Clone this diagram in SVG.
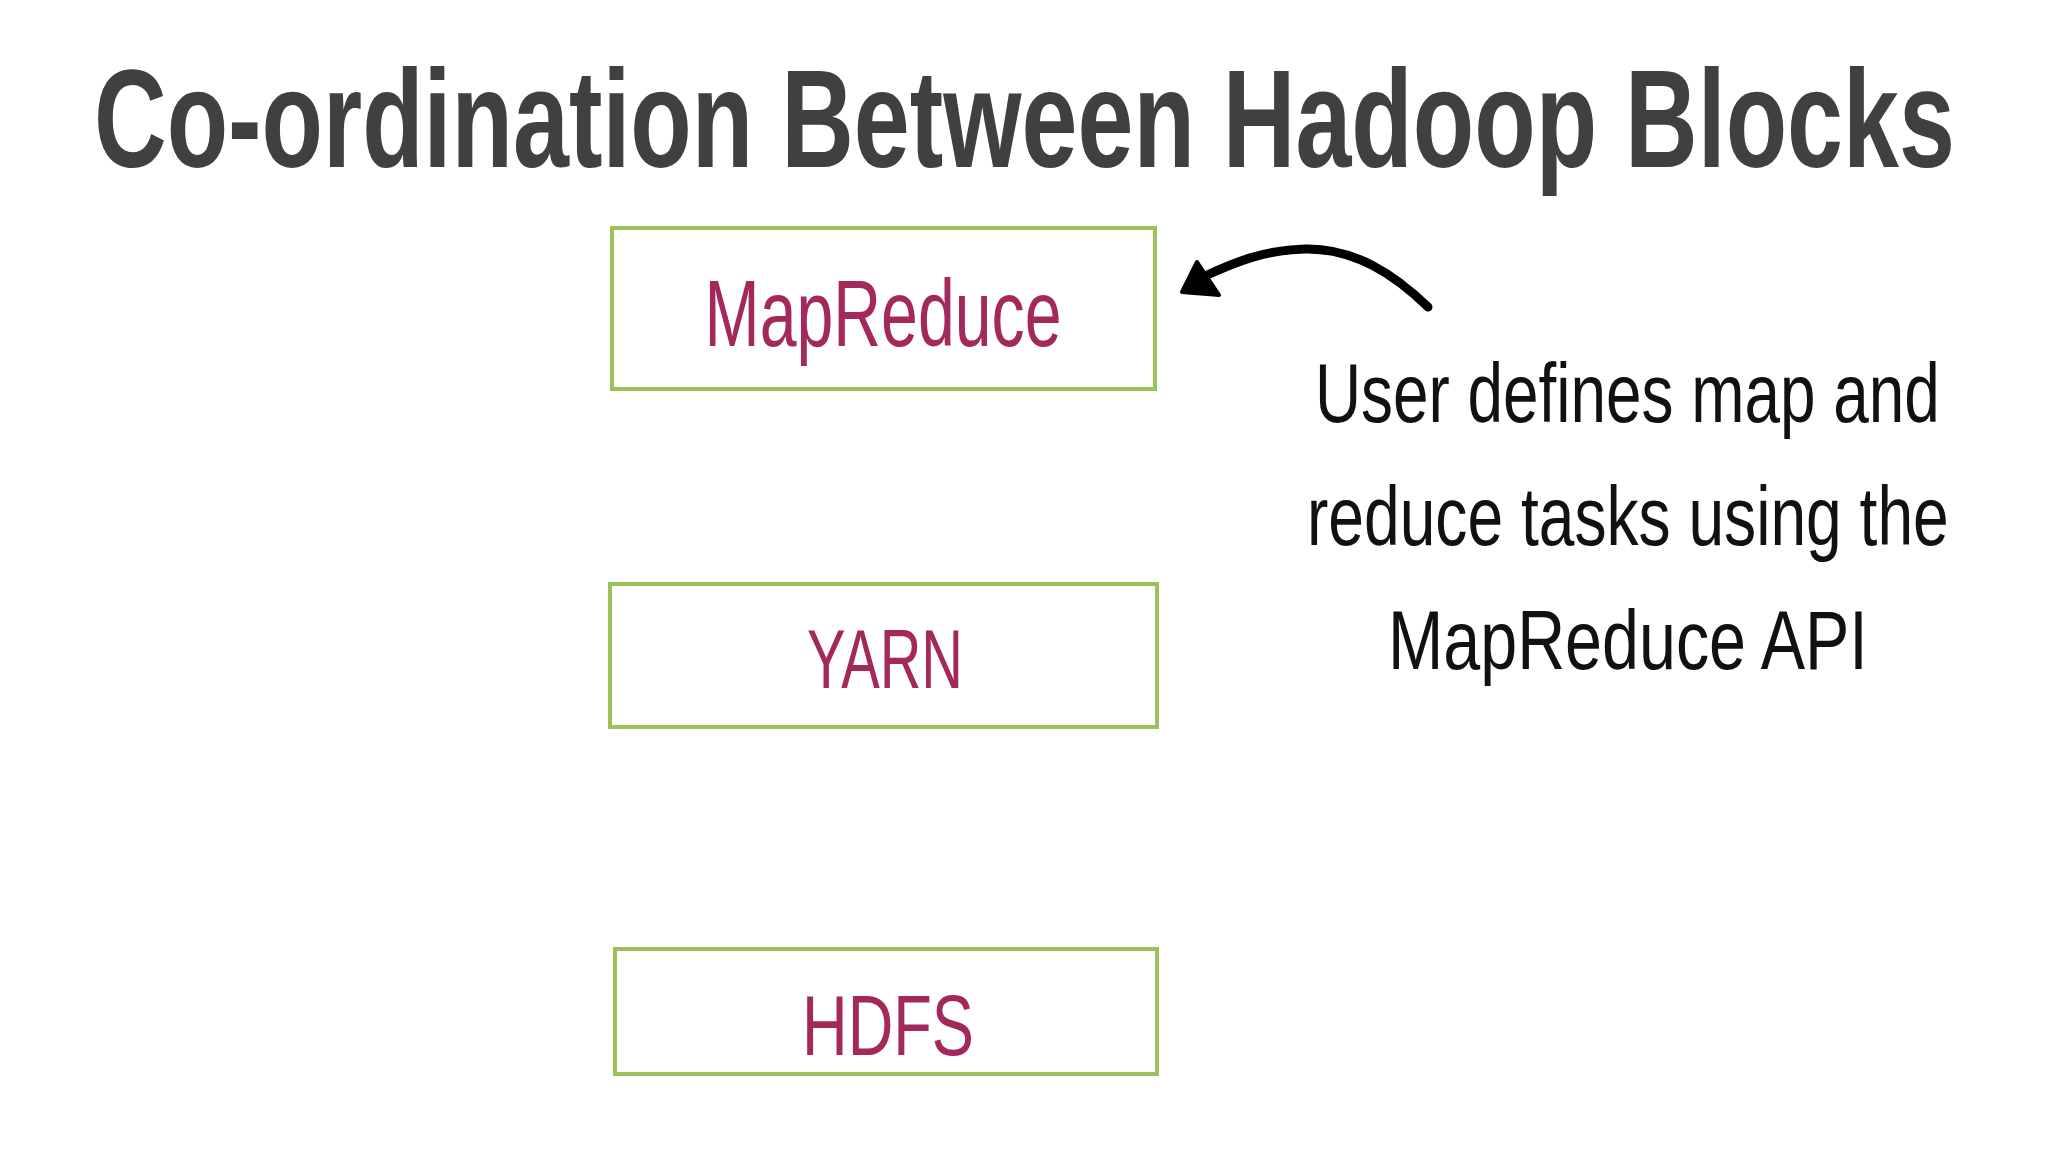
<svg xmlns="http://www.w3.org/2000/svg" width="2048" height="1152" viewBox="0 0 2048 1152">
  <style>
    .box { fill: #ffffff; stroke: #9bc25a; stroke-width: 4; }
    .lbl { font-family: "Liberation Sans", Arial, sans-serif; fill: #a3295a; text-anchor: middle; }
    .note { font-family: "Liberation Sans", Arial, sans-serif; fill: #111111; font-size: 84px; }
    .title { font-family: "Liberation Sans", Arial, sans-serif; font-weight: bold; fill: #404040; font-size: 140px; }
  </style>
  <rect width="2048" height="1152" fill="#ffffff"/>
  <text class="title" transform="translate(94,167) scale(0.7185,1)" x="0" y="0" textLength="2590" lengthAdjust="spacingAndGlyphs">Co-ordination Between Hadoop Blocks</text>

  <g id="node-mapreduce">
    <rect class="box" x="612" y="228" width="543" height="161"/>
    <text class="lbl" transform="translate(883,346) scale(0.704,1)" x="0" y="0" font-size="94" textLength="507" lengthAdjust="spacingAndGlyphs">MapReduce</text>
  </g>
  <g id="node-yarn">
    <rect class="box" x="610" y="584" width="547" height="143"/>
    <text class="lbl" transform="translate(885,688) scale(0.67,1)" x="0" y="0" font-size="84" textLength="233" lengthAdjust="spacingAndGlyphs">YARN</text>
  </g>
  <g id="node-hdfs">
    <rect class="box" x="615" y="949" width="542" height="125"/>
    <text class="lbl" transform="translate(888,1055) scale(0.735,1)" x="0" y="0" font-size="86" textLength="234" lengthAdjust="spacingAndGlyphs">HDFS</text>
  </g>

  <g id="note">
    <text class="note" transform="translate(1315,422) scale(0.76,1)" x="0" y="0" textLength="822" lengthAdjust="spacingAndGlyphs">User defines map and</text>
    <text class="note" transform="translate(1307,545) scale(0.764,1)" x="0" y="0" textLength="840" lengthAdjust="spacingAndGlyphs">reduce tasks using the</text>
    <text class="note" transform="translate(1388,669) scale(0.784,1)" x="0" y="0" textLength="612" lengthAdjust="spacingAndGlyphs">MapReduce API</text>
  </g>

  <g id="connectors">
    <path d="M1428,307 C1395,275 1355,248 1305,249 C1265,250 1235,262 1205,276" fill="none" stroke="#000000" stroke-width="9" stroke-linecap="round"/>
    <polygon points="1182,292 1197,262 1219,295" fill="#000000" stroke="#000000" stroke-width="4" stroke-linejoin="round"/>
  </g>
</svg>
